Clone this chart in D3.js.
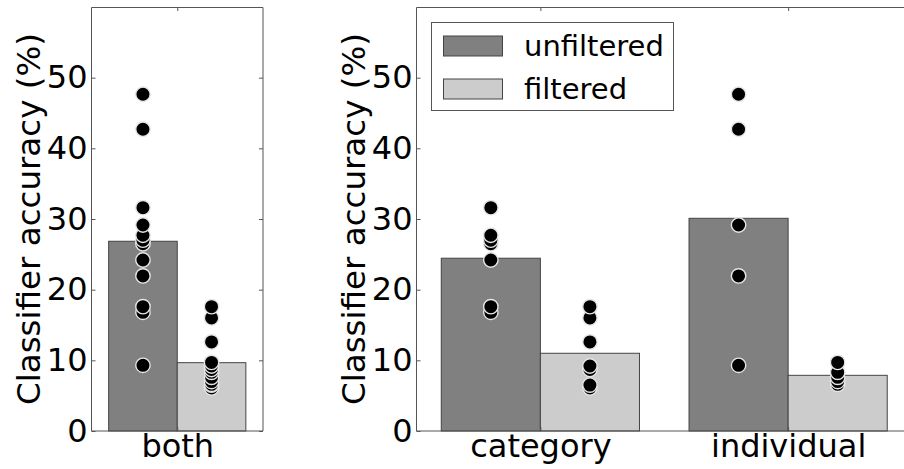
<!DOCTYPE html>
<html>
<head>
<meta charset="utf-8">
<script src="https://cdn.jsdelivr.net/npm/d3@7"></script>
<style>
  html, body { margin: 0; padding: 0; background: #fff; }
  svg { display: block; }
  text { font-family: "DejaVu Sans", sans-serif; fill: #000; }
</style>
</head>
<body>
<svg id="chart" width="904" height="469"></svg>
<script>
// Group labels for each panel
const leftCategories = ["both"];
const rightCategories = ["category", "individual"];
const seriesNames = ["unfiltered", "filtered"];
const seriesColors = ["#808080", "#cccccc"];

// Bar heights (mean accuracy, %)
const unfilteredBars = [26.85, 24.45, 30.1];   // both, category, individual
const filteredBars = [9.67, 11.0, 7.88];

// Individual classifier accuracies (%)
const bothUnfiltered = [47.65, 42.7, 31.6, 29.15, 27.7, 27.0, 26.5, 24.2, 21.95, 17.6, 16.8, 9.3];
const bothFiltered = [17.6, 16.0, 12.6, 9.7, 9.2, 8.7, 8.3, 7.6, 7.0, 6.6, 6.5, 6.1];
const categoryUnfiltered = [31.6, 27.7, 27.0, 26.5, 24.2, 17.6, 16.8];
const categoryFiltered = [17.6, 16.0, 12.6, 9.2, 8.7, 6.5, 6.1];
const individualUnfiltered = [47.65, 42.7, 29.15, 21.95, 9.3];
const individualFiltered = [9.7, 8.3, 7.6, 7.0, 6.6];

const yTicks = [0, 10, 20, 30, 40, 50];
const yLabel = "Classifier accuracy (%)";

const svg = d3.select("#chart");
const frameColor = "#555";
const barEdge = "#444";
const fontSize = 32;

const y = d3.scaleLinear().domain([0, 60]).range([431, 7]);

function drawPanel(opts) {
  const { left, right, categories, unf, fil, ptsUnf, ptsFil, legend } = opts;
  const g = svg.append("g");
  const x = d3.scaleLinear().domain([-0.5, categories.length - 0.5]).range([left, right]);
  const unit = x(1) - x(0);
  const bw = 0.4 * unit;

  // bars
  categories.forEach((c, i) => {
    g.append("rect")
      .attr("x", x(i) - bw).attr("y", y(unf[i]))
      .attr("width", bw).attr("height", y(0) - y(unf[i]))
      .attr("fill", seriesColors[0]).attr("stroke", barEdge).attr("stroke-width", 1);
    g.append("rect")
      .attr("x", x(i)).attr("y", y(fil[i]))
      .attr("width", bw).attr("height", y(0) - y(fil[i]))
      .attr("fill", seriesColors[1]).attr("stroke", barEdge).attr("stroke-width", 1);
  });

  // points, lower values drawn first
  categories.forEach((c, i) => {
    [[ptsUnf[i], x(i) - bw / 2], [ptsFil[i], x(i) + bw / 2]].forEach(([vals, cx]) => {
      const sorted = vals.slice().sort((a, b) => a - b);
      g.selectAll(null).data(sorted).enter().append("circle")
        .attr("cx", cx).attr("cy", d => y(d)).attr("r", 7.2)
        .attr("fill", "#000").attr("stroke", "#e6e6e6").attr("stroke-width", 1.4);
    });
  });

  // frame
  g.append("path")
    .attr("d", `M${left},${y(0)}V7.5H${right}V${y(0)}H${left}`)
    .attr("fill", "none").attr("stroke", frameColor).attr("stroke-width", 1);

  // y axis (ticks inward)
  const ya = g.append("g").attr("transform", `translate(${left},0)`)
    .call(d3.axisLeft(y).tickValues(yTicks).tickSizeInner(-4).tickSizeOuter(0).tickPadding(4));
  ya.select(".domain").remove();
  ya.selectAll("line").attr("stroke", frameColor);
  ya.selectAll("text").style("font-size", fontSize + "px").style("font-family", "DejaVu Sans");

  const yr = g.append("g").attr("transform", `translate(${right},0)`)
    .call(d3.axisRight(y).tickValues(yTicks).tickSizeInner(-4).tickSizeOuter(0).tickFormat(""));
  yr.select(".domain").remove();
  yr.selectAll("line").attr("stroke", frameColor);

  // x axis
  const xb = g.append("g").attr("transform", `translate(0,${y(0)})`)
    .call(d3.axisBottom(x).tickValues(d3.range(categories.length))
      .tickFormat(i => categories[i]).tickSizeInner(-4).tickSizeOuter(0).tickPadding(3));
  xb.select(".domain").remove();
  xb.selectAll("line").attr("stroke", frameColor);
  xb.selectAll("text").style("font-size", fontSize + "px").style("font-family", "DejaVu Sans");

  const xt = g.append("g").attr("transform", "translate(0,7)")
    .call(d3.axisTop(x).tickValues(d3.range(categories.length))
      .tickFormat("").tickSizeInner(-4).tickSizeOuter(0));
  xt.select(".domain").remove();
  xt.selectAll("line").attr("stroke", frameColor);

  // y label
  g.append("text")
    .attr("transform", `translate(${left - 52},${(y(0) + y(60)) / 2}) rotate(-90)`)
    .attr("text-anchor", "middle")
    .style("font-size", "32.5px")
    .text(yLabel);

  if (legend) {
    const lg = g.append("g");
    lg.append("rect").attr("x", 431.5).attr("y", 22.5).attr("width", 242).attr("height", 88)
      .attr("fill", "#fff").attr("stroke", frameColor).attr("stroke-width", 1);
    seriesNames.forEach((name, k) => {
      const cy = 46 + k * 43;
      lg.append("rect").attr("x", 443.5).attr("y", cy - 10).attr("width", 59).attr("height", 20)
        .attr("fill", seriesColors[k]).attr("stroke", barEdge).attr("stroke-width", 1);
      lg.append("text").attr("x", 524).attr("y", cy).attr("dy", "0.35em")
        .style("font-size", "29px").text(name);
    });
  }
}

drawPanel({
  left: 91.5, right: 263,
  categories: leftCategories,
  unf: [unfilteredBars[0]], fil: [filteredBars[0]],
  ptsUnf: [bothUnfiltered], ptsFil: [bothFiltered]
});

drawPanel({
  left: 416.5, right: 912,
  categories: rightCategories,
  unf: unfilteredBars.slice(1), fil: filteredBars.slice(1),
  ptsUnf: [categoryUnfiltered, individualUnfiltered],
  ptsFil: [categoryFiltered, individualFiltered],
  legend: true
});
</script>
</body>
</html>
